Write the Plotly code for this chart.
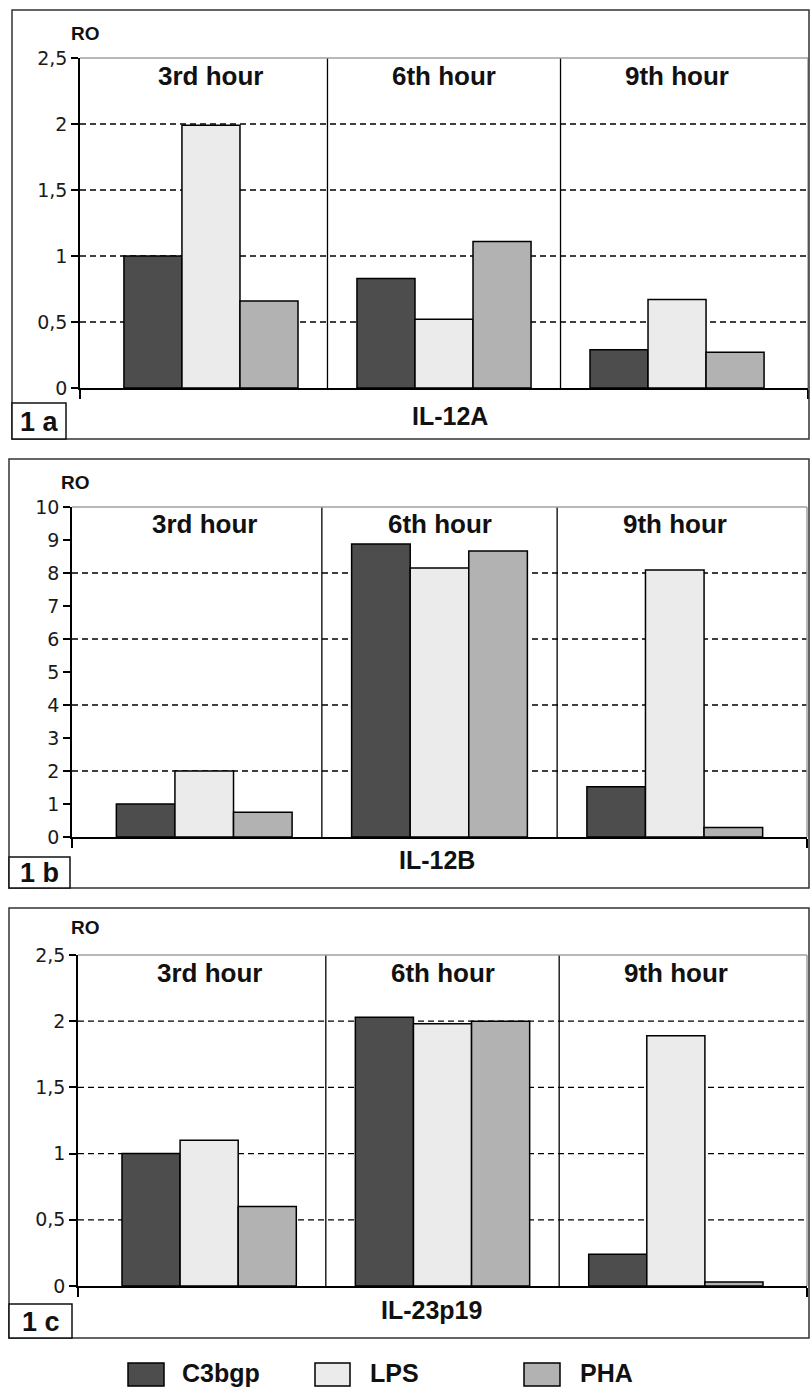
import plotly.graph_objects as go

# ---------------- data ----------------
categories = ["3rd hour", "6th hour", "9th hour"]
series_names = ["C3bgp", "LPS", "PHA"]
series_colors = ["#4d4d4d", "#ebebeb", "#b2b2b2"]

il12a_c3bgp = [1.00, 0.83, 0.29]
il12a_lps = [1.99, 0.52, 0.67]
il12a_pha = [0.66, 1.11, 0.27]

il12b_c3bgp = [1.00, 8.88, 1.52]
il12b_lps = [2.00, 8.15, 8.09]
il12b_pha = [0.75, 8.67, 0.29]

il23_c3bgp = [1.00, 2.03, 0.24]
il23_lps = [1.10, 1.98, 1.89]
il23_pha = [0.60, 2.00, 0.03]

genes = ["IL-12A", "IL-12B", "IL-23p19"]
panel_tags = ["1 a", "1 b", "1 c"]

ticks_a = [0, 0.5, 1, 1.5, 2, 2.5]
ticklabels_a = ["0", "0,5", "1", "1,5", "2", "2,5"]
grid_a = [0.5, 1, 1.5, 2]
ticks_b = [0, 1, 2, 3, 4, 5, 6, 7, 8, 9, 10]
ticklabels_b = ["0", "1", "2", "3", "4", "5", "6", "7", "8", "9", "10"]
grid_b = [2, 4, 6, 8]

# ---------------- layout geometry (pixels) ----------------
W, H = 810, 1391


def px(x):
    return x / W


def py(y):
    return 1 - y / H


panels = [
    dict(values=[il12a_c3bgp, il12a_lps, il12a_pha], ticks=ticks_a, labels=ticklabels_a, grid=grid_a,
         yrange=[0, 2.5], plot=(80, 808, 58, 388), box=(12, 10, 809, 439), tag=(12, 403, 66, 439),
         ro=(85, 33), gene=(450, 416), head=75.5),
    dict(values=[il12b_c3bgp, il12b_lps, il12b_pha], ticks=ticks_b, labels=ticklabels_b, grid=grid_b,
         yrange=[0, 10], plot=(72, 807, 507, 837), box=(9, 459, 809, 888), tag=(9, 857, 70, 888),
         ro=(75, 482), gene=(437, 860), head=524),
    dict(values=[il23_c3bgp, il23_lps, il23_pha], ticks=ticks_a, labels=ticklabels_a, grid=grid_a,
         yrange=[0, 2.5], plot=(78, 807, 955, 1286), box=(9, 908, 809, 1338), tag=(9, 1304, 72, 1338),
         ro=(85, 927), gene=(431, 1310), head=972.5),
]

xpos = list(range(len(categories)))
xrange_ = [-0.562, len(categories) - 1 + 0.562]

bold = dict(family="Liberation Sans, Arial", color="#111", weight="bold")
tickfont = dict(family="DejaVu Sans", size=19, color="#1a1a1a")

fig = go.Figure()
shapes = []
annotations = []

for i, p in enumerate(panels):
    n = "" if i == 0 else str(i + 1)
    xa, ya = "x" + n, "y" + n
    for s, vals in enumerate(p["values"]):
        fig.add_trace(go.Bar(
            x=xpos, y=vals, name=series_names[s], xaxis=xa, yaxis=ya,
            marker=dict(color=series_colors[s], line=dict(color="#000", width=1.5)),
            showlegend=False, hoverinfo="skip",
        ))
    x0, x1, y0, y1 = p["plot"]
    fig.layout["xaxis" + n] = dict(
        domain=[px(x0), px(x1)], range=xrange_, anchor=ya, showgrid=False, zeroline=False,
        showline=True, linecolor="#000", linewidth=1.5, tickvals=xrange_, ticks="outside",
        ticklen=9, tickwidth=1.5, tickcolor="#000", showticklabels=False, fixedrange=True,
        automargin=False,
    )
    fig.layout["yaxis" + n] = dict(
        domain=[py(y1), py(y0)], range=p["yrange"], anchor=xa, showgrid=False, zeroline=False,
        showline=True, linecolor="#000", linewidth=1.5, tickvals=p["ticks"], ticktext=p["labels"],
        ticks="outside", ticklen=7, tickwidth=1.5, tickcolor="#000", tickfont=tickfont, fixedrange=True,
        automargin=False,
    )
    # dashed gridlines
    for g in p["grid"]:
        shapes.append(dict(type="line", xref=xa + " domain", yref=ya, x0=0, x1=1, y0=g, y1=g,
                           line=dict(color="#000", width=1.3, dash="6px,4px"), layer="below"))
    # category dividers
    for k in range(len(categories) - 1):
        shapes.append(dict(type="line", xref=xa, yref=ya + " domain", x0=k + 0.5, x1=k + 0.5, y0=0, y1=1,
                           line=dict(color="#000", width=1.3)))
    # top & right plot border (grey)
    shapes.append(dict(type="line", xref=xa + " domain", yref=ya + " domain", x0=0, x1=1, y0=1, y1=1,
                       line=dict(color="#a0a0a0", width=1.5)))
    shapes.append(dict(type="line", xref=xa + " domain", yref=ya + " domain", x0=1, x1=1, y0=0, y1=1,
                       line=dict(color="#a0a0a0", width=1.5)))
    # outer box
    bx0, by0, bx1, by1 = p["box"]
    shapes.append(dict(type="rect", xref="paper", yref="paper", x0=px(bx0), x1=px(bx1), y0=py(by1), y1=py(by0),
                       line=dict(color="#333", width=1.5)))
    # tag box
    tx0, ty0, tx1, ty1 = p["tag"]
    shapes.append(dict(type="rect", xref="paper", yref="paper", x0=px(tx0), x1=px(tx1), y0=py(ty1), y1=py(ty0),
                       line=dict(color="#111", width=1.5), fillcolor="#fff"))
    annotations.append(dict(text=panel_tags[i], xref="paper", yref="paper", x=px((tx0 + tx1) / 2),
                            y=py((ty0 + ty1) / 2 + 1), showarrow=False, xanchor="center", yanchor="middle",
                            font=dict(bold, size=27)))
    # category headers
    for k, c in enumerate(categories):
        annotations.append(dict(text=c, xref=xa, yref="paper", x=xpos[k], y=py(p["head"]), showarrow=False,
                                xanchor="center", yanchor="middle", font=dict(bold, size=26)))
    # gene label
    gx, gy = p["gene"]
    annotations.append(dict(text=genes[i], xref="paper", yref="paper", x=px(gx), y=py(gy), showarrow=False,
                            xanchor="center", yanchor="middle", font=dict(bold, size=25)))
    # RO label
    rx, ry = p["ro"]
    annotations.append(dict(text="RO", xref="paper", yref="paper", x=px(rx), y=py(ry), showarrow=False,
                            xanchor="center", yanchor="middle", font=dict(bold, size=19)))

# legend (manual)
leg_sq = [(128, 164), (315, 350), (524, 560)]
leg_text_x = [180, 368, 578]
ly0, ly1 = 1363, 1386
for s in range(len(series_names)):
    shapes.append(dict(type="rect", xref="paper", yref="paper", x0=px(leg_sq[s][0]), x1=px(leg_sq[s][1]),
                       y0=py(ly1), y1=py(ly0), fillcolor=series_colors[s], line=dict(color="#000", width=1.5)))
    annotations.append(dict(text=series_names[s], xref="paper", yref="paper", x=px(leg_text_x[s]),
                            y=py(1389), showarrow=False, xanchor="left", yanchor="bottom",
                            font=dict(bold, size=25)))

fig.update_layout(
    template="none",
    width=W, height=H, autosize=False, margin=dict(l=0, r=0, t=0, b=0, pad=0),
    paper_bgcolor="#fff", plot_bgcolor="#fff", barmode="group", bargap=0.253, bargroupgap=0,
    shapes=shapes, annotations=annotations, showlegend=False,
)

fig.write_html(
    "out.html",
    config={"displayModeBar": False},
    post_script="document.body.style.margin='0';document.body.style.padding='0';"
                "document.documentElement.style.overflow='hidden';",
)
